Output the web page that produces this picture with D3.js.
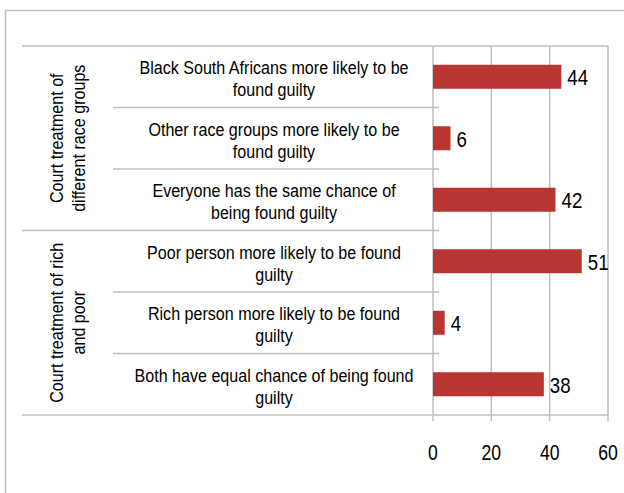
<!DOCTYPE html>
<html>
<head>
<meta charset="utf-8">
<script src="https://cdn.jsdelivr.net/npm/d3@7"></script>
<style>
  html, body { margin: 0; padding: 0; background: #fff; }
  svg { display: block; }
  text { font-family: "Liberation Sans", Arial, sans-serif; fill: #000; }
</style>
</head>
<body>
<svg id="chart" width="624" height="493"></svg>
<script>
const categories = [
  ["Black South Africans more likely to be", "found guilty"],
  ["Other race groups more likely to be", "found guilty"],
  ["Everyone has the same chance of", "being found guilty"],
  ["Poor person more likely to be found", "guilty"],
  ["Rich person more likely to be found", "guilty"],
  ["Both have equal chance of being found", "guilty"]
];
const values = [44, 6, 42, 51, 4, 38];
const groups = [
  ["Court treatment of", "different race groups"],
  ["Court treatment of rich", "and poor"]
];
const groupSizes = [3, 3];
const ticks = [0, 20, 40, 60];

(function () {
const svg = d3.select("#chart");
const gridColor = "#bfbfbf";
const barColor = "#b83532";
const narrow = 0.87;   // emulate a narrow typeface
const narrowVal = 0.85;
const narrowTick = 0.8;

const pLeft = 433, pRight = 608, pTop = 46, pBottom = 415;
const x = d3.scaleLinear().domain([0, 60]).range([pLeft, pRight]);
const y = d3.scaleBand().domain(d3.range(categories.length)).range([pTop, pBottom]).padding(0);

function label(parent, tx, ty, lines, size, anchor, sx, lineH, rot) {
  const g = parent.append("g")
    .attr("transform", `translate(${tx},${ty})` + (rot ? ` rotate(${rot})` : "") + ` scale(${sx},1)`);
  const t = g.append("text").attr("text-anchor", anchor).attr("font-size", size);
  lines.forEach((ln, j) => {
    t.append("tspan").attr("x", 0).attr("y", (j - (lines.length - 1) / 2) * lineH).text(ln);
  });
  return t;
}

svg.append("rect").attr("x", 5.5).attr("y", 10.5).attr("width", 700).attr("height", 600)
  .attr("fill", "none").attr("stroke", gridColor).attr("stroke-width", 1.5);

svg.append("g").selectAll("line").data(ticks).join("line")
  .attr("x1", d => x(d)).attr("x2", d => x(d))
  .attr("y1", pTop).attr("y2", pBottom + 6)
  .attr("stroke", gridColor).attr("stroke-width", 1.5);

[pTop, pBottom].forEach(yy => {
  svg.append("line").attr("x1", 22).attr("x2", pRight).attr("y1", yy).attr("y2", yy)
    .attr("stroke", gridColor).attr("stroke-width", 1.5);
});

let idx = 0;
groupSizes.forEach((n, gi) => {
  for (let k = 1; k < n; k++) {
    const yy = y(idx + k);
    svg.append("line").attr("x1", 113).attr("x2", pLeft + 6).attr("y1", yy).attr("y2", yy)
      .attr("stroke", gridColor).attr("stroke-width", 1.5);
  }
  idx += n;
  if (gi < groupSizes.length - 1) {
    const yy = y(idx);
    svg.append("line").attr("x1", 22).attr("x2", pLeft + 6).attr("y1", yy).attr("y2", yy)
      .attr("stroke", gridColor).attr("stroke-width", 1.5);
  }
});

const barH = 24;
svg.append("g").selectAll("rect").data(values).join("rect")
  .attr("x", x(0)).attr("width", d => x(d) - x(0))
  .attr("y", (d, i) => y(i) + y.bandwidth() / 2 - barH / 2)
  .attr("height", barH)
  .attr("fill", barColor);

values.forEach((v, i) => {
  label(svg, x(v) + 6, y(i) + y.bandwidth() / 2 + 8.5, [String(v)], 22, "start", narrowVal, 0, 0);
});

const catX = 274;
categories.forEach((lines, i) => {
  const cy = y(i) + y.bandwidth() / 2;
  label(svg, catX, cy + 8.5, lines, 18.5, "middle", narrow, 22, 0);
});

idx = 0;
groups.forEach((lines, gi) => {
  const n = groupSizes[gi];
  const cy = (y(idx) + y(idx + n - 1) + y.bandwidth()) / 2;
  idx += n;
  label(svg, 74, cy, lines, 18.5, "middle", narrow, 22, -90);
});

ticks.forEach(t => {
  label(svg, x(t), 460, [String(t)], 22, "middle", narrowTick, 0, 0);
});
})();
</script>
</body>
</html>
